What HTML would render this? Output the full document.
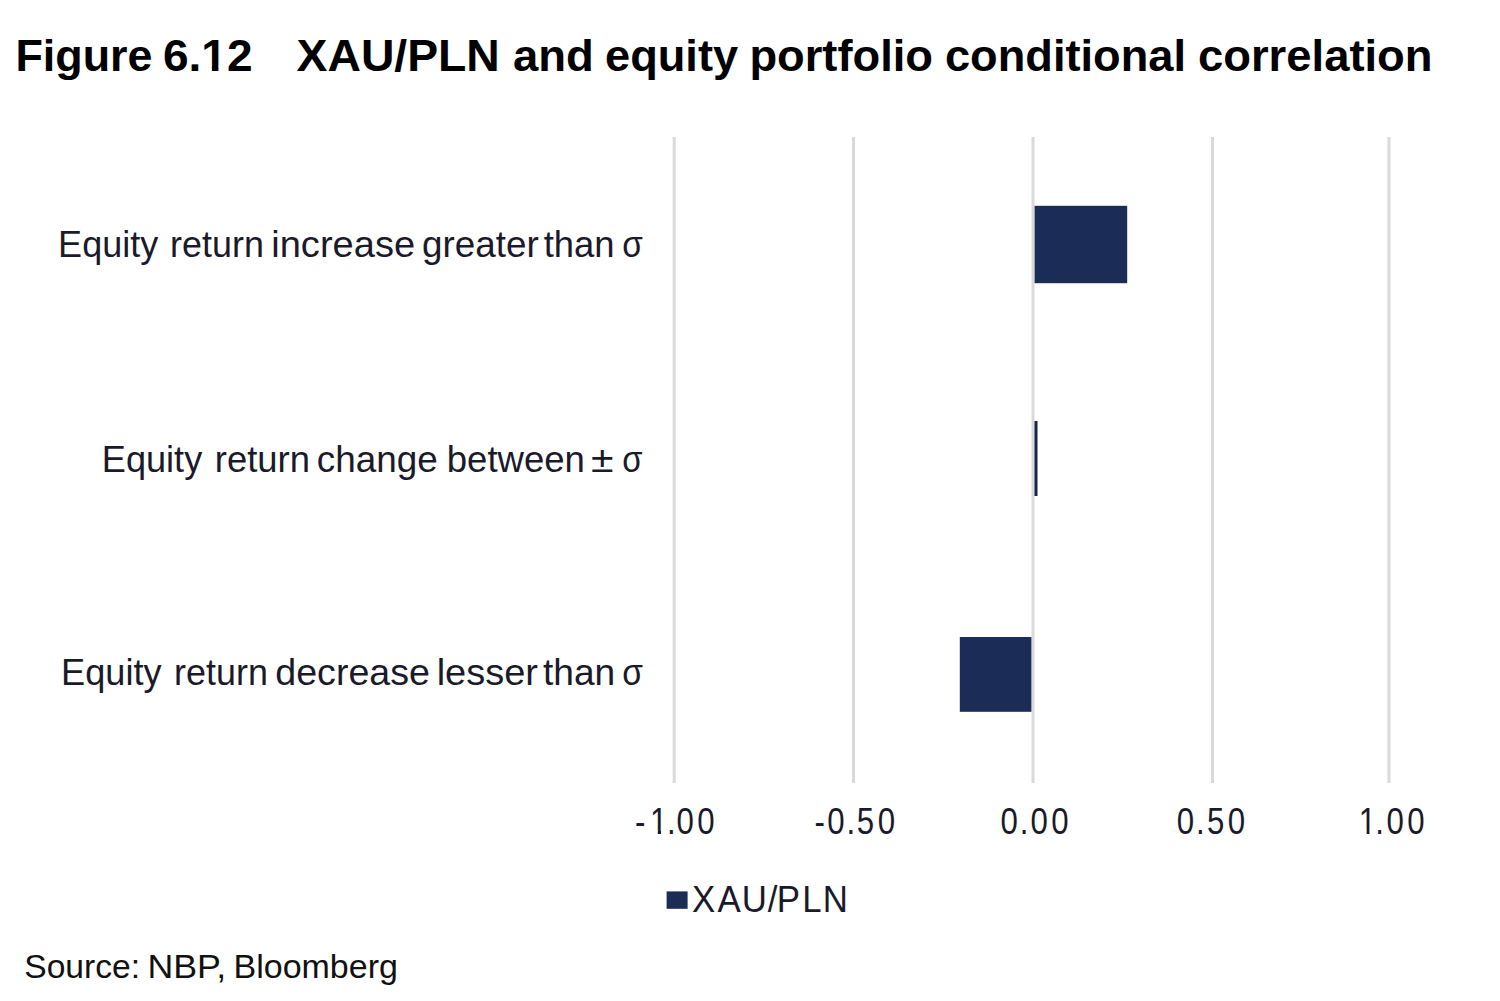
<!DOCTYPE html>
<html><head><meta charset="utf-8"><title>Figure 6.12 XAU/PLN and equity portfolio conditional correlation</title>
<style>
html,body{margin:0;padding:0;background:#fff;width:1500px;height:1001px;overflow:hidden}
svg{display:block}
text{font-family:"Liberation Sans",Arial,Helvetica,sans-serif;white-space:pre}
.t{font-weight:bold;fill:#000}
.s{fill:#111}
.c{fill:#1a1a2a}
</style></head>
<body>
<svg width="1500" height="1001" viewBox="0 0 1500 1001">
<rect width="1500" height="1001" fill="#fff"/>
<g fill="#d9d9d9">
<rect x="672.7" y="137" width="3" height="646"/>
<rect x="852" y="137" width="3" height="646"/>
<rect x="1031.5" y="137" width="3" height="646"/>
<rect x="1211" y="137" width="3" height="646"/>
<rect x="1387.5" y="137" width="3" height="646"/>
</g>
<g fill="#1b2d57">
<rect x="1034.6" y="205.8" width="92.6" height="77.4"/>
<rect x="1034.5" y="421" width="3" height="75" fill="#15264a"/>
<rect x="959.8" y="637" width="71.6" height="74.8"/>
<rect x="666.6" y="891.4" width="21" height="17.4"/>
</g>
<text class="t" x="15.41" y="71.0" font-size="45" textLength="137.10" lengthAdjust="spacingAndGlyphs">Figure</text>
<text class="t" x="162.95" y="71.0" font-size="45" textLength="89.68" lengthAdjust="spacingAndGlyphs">6.12</text>
<text class="t" x="296.57" y="71.0" font-size="45" textLength="203.22" lengthAdjust="spacingAndGlyphs">XAU/PLN</text>
<text class="t" x="512.99" y="71.0" font-size="45" textLength="80.86" lengthAdjust="spacingAndGlyphs">and</text>
<text class="t" x="604.99" y="71.0" font-size="45" textLength="133.14" lengthAdjust="spacingAndGlyphs">equity</text>
<text class="t" x="749.38" y="71.0" font-size="45" textLength="183.68" lengthAdjust="spacingAndGlyphs">portfolio</text>
<text class="t" x="944.99" y="71.0" font-size="45" textLength="241.02" lengthAdjust="spacingAndGlyphs">conditional</text>
<text class="t" x="1197.98" y="71.0" font-size="45" textLength="234.60" lengthAdjust="spacingAndGlyphs">correlation</text>
<text class="c" x="58.12" y="256.8" font-size="37.5" textLength="100.11" lengthAdjust="spacingAndGlyphs">Equity</text>
<text class="c" x="170.09" y="256.8" font-size="37.5" textLength="93.80" lengthAdjust="spacingAndGlyphs">return</text>
<text class="c" x="271.27" y="256.8" font-size="37.5" textLength="143.80" lengthAdjust="spacingAndGlyphs">increase</text>
<text class="c" x="422.03" y="256.8" font-size="37.5" textLength="116.78" lengthAdjust="spacingAndGlyphs">greater</text>
<text class="c" x="543.73" y="256.8" font-size="37.5" textLength="70.91" lengthAdjust="spacingAndGlyphs">than</text>
<text class="c" x="622.22" y="256.8" font-size="37.5" textLength="20.62" lengthAdjust="spacingAndGlyphs">σ</text>
<text class="c" x="101.81" y="471.9" font-size="37.5" textLength="100.42" lengthAdjust="spacingAndGlyphs">Equity</text>
<text class="c" x="214.76" y="471.9" font-size="37.5" textLength="95.15" lengthAdjust="spacingAndGlyphs">return</text>
<text class="c" x="316.73" y="471.9" font-size="37.5" textLength="120.98" lengthAdjust="spacingAndGlyphs">change</text>
<text class="c" x="446.75" y="471.9" font-size="37.5" textLength="138.19" lengthAdjust="spacingAndGlyphs">between</text>
<text class="c" x="590.91" y="471.9" font-size="37.5" textLength="22.54" lengthAdjust="spacingAndGlyphs">±</text>
<text class="c" x="622.25" y="471.9" font-size="37.5" textLength="20.29" lengthAdjust="spacingAndGlyphs">σ</text>
<text class="c" x="61.11" y="684.6" font-size="37.5" textLength="100.42" lengthAdjust="spacingAndGlyphs">Equity</text>
<text class="c" x="174.09" y="684.6" font-size="37.5" textLength="93.80" lengthAdjust="spacingAndGlyphs">return</text>
<text class="c" x="275.29" y="684.6" font-size="37.5" textLength="154.69" lengthAdjust="spacingAndGlyphs">decrease</text>
<text class="c" x="436.67" y="684.6" font-size="37.5" textLength="101.36" lengthAdjust="spacingAndGlyphs">lesser</text>
<text class="c" x="543.01" y="684.6" font-size="37.5" textLength="72.27" lengthAdjust="spacingAndGlyphs">than</text>
<text class="c" x="622.21" y="684.6" font-size="37.5" textLength="20.73" lengthAdjust="spacingAndGlyphs">σ</text>
<text class="s" x="24.23" y="977.6" font-size="32.5" textLength="115.89" lengthAdjust="spacingAndGlyphs">Source:</text>
<text class="s" x="147.40" y="977.6" font-size="32.5" textLength="78.84" lengthAdjust="spacingAndGlyphs">NBP,</text>
<text class="s" x="233.56" y="977.6" font-size="32.5" textLength="164.31" lengthAdjust="spacingAndGlyphs">Bloomberg</text>
<text class="c" transform="scale(0.85,1)" x="747.15 764.68 784.65 795.88 820.24" y="834" font-size="36.7">-1.00</text>
<text class="c" transform="scale(0.85,1)" x="958.21 973.18 995.82 1007.97 1032.71" y="834" font-size="36.7">-0.50</text>
<text class="c" transform="scale(0.85,1)" x="1177.06 1199.71 1212.35 1236.71" y="834" font-size="36.7">0.00</text>
<text class="c" transform="scale(0.85,1)" x="1384.47 1407.12 1420.09 1444.47" y="834" font-size="36.7">0.50</text>
<text class="c" transform="scale(0.85,1)" x="1598.56 1617.94 1631.18 1655.53" y="834" font-size="36.7">1.00</text>
<text class="c" transform="scale(0.95,1)" x="728.55 755.16 780.92 808.26 817.74 844.37 866.08" y="911.7" font-size="36.7">XAU/PLN</text>
<g fill="#fff">
<rect x="203.39" y="65.87" width="8.49" height="5.73"/>
<rect x="218.41" y="65.87" width="8.12" height="5.73"/>
<rect x="651.55" y="830.62" width="6.24" height="3.98"/>
<rect x="661.03" y="830.62" width="6.17" height="3.98"/>
<rect x="1360.35" y="830.61" width="6.25" height="3.99"/>
<rect x="1369.45" y="830.61" width="6.56" height="3.99"/>
</g>
</svg>
</body></html>
